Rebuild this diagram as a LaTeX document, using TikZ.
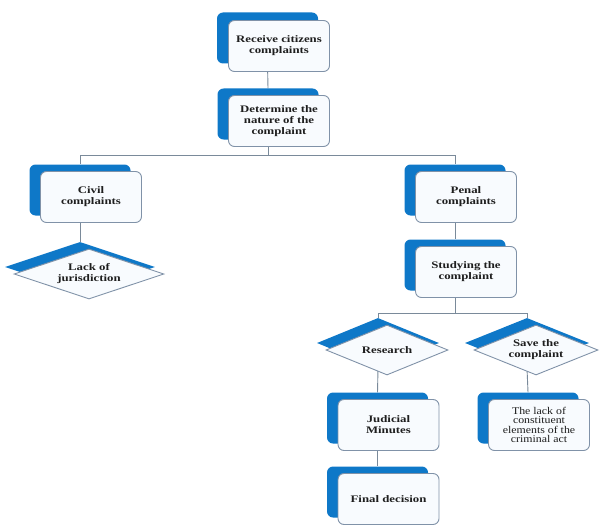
\documentclass[tikz,border=0pt]{standalone}
\usepackage{fontspec}
\newfontfamily\bxfont{Liberation Serif Bold}[FakeStretch=1.28]
\newfontfamily\nxfont{Liberation Serif}[FakeStretch=1.15]
\usetikzlibrary{shapes.geometric,backgrounds}
\definecolor{bluebk}{RGB}{14,120,200}
\definecolor{bordergray}{RGB}{128,146,168}
\definecolor{frontfill}{RGB}{248,251,254}
\definecolor{linegray}{RGB}{122,138,154}
\definecolor{txt}{RGB}{30,30,30}
\tikzset{
  backbox/.style={fill=bluebk, rounded corners=6pt, minimum width=101pt, minimum height=51pt, inner sep=0pt},
  frontbox/.style={draw=bordergray, line width=0.9pt, fill=frontfill, rounded corners=6pt, minimum width=101pt, minimum height=51pt, inner sep=0pt, align=center, text=txt, font=\bxfont\fontsize{10}{11}\selectfont},
  backdia/.style={shape=diamond, fill=bluebk, inner sep=0pt},
  frontdia/.style={shape=diamond, draw=bordergray, line width=0.9pt, fill=frontfill, inner sep=0pt},
  diatext/.style={align=center, text=txt, font=\bxfont\fontsize{10}{11}\selectfont, inner sep=0pt},
  conn/.style={draw=linegray, line width=0.9pt}
}
\begin{document}
\begin{tikzpicture}[x=1pt,y=-1pt]
\useasboundingbox (0,0) rectangle (601,524);
% boxes (blue back + white front)
\node[backbox] (b1) at (267.5,38) {};
\node[frontbox] (f1) at (279,46) {Receive citizens\\complaints};
\node[backbox] (b2) at (268,114) {};
\node[frontbox] (f2) at (279,121) {Determine the\\nature of the\\complaint};
\node[backbox] (civ) at (80,190) {};
\node[frontbox] (fciv) at (91,197) {Civil\\complaints};
\node[backbox] (pen) at (455,190) {};
\node[frontbox] (fpen) at (466,197) {Penal\\complaints};
\node[backbox] (stu) at (455,265) {};
\node[frontbox] (fstu) at (466,272) {Studying the\\complaint};
\node[backbox] (jud) at (377.5,418) {};
\node[frontbox] (fjud) at (388.5,425) {Judicial\\Minutes};
\node[backbox] (lce) at (528,418) {};
\node[frontbox, font=\nxfont\fontsize{10.3}{9.2}\selectfont] (flce) at (539,425) {The lack of\\constituent\\elements of the\\criminal act};
\node[backbox] (fin) at (377.5,492) {};
\node[frontbox] (ffin) at (388.5,499) {Final decision};
% diamonds
\node[backdia, minimum width=150pt, minimum height=50pt] (dlj) at (80,267) {};
\node[frontdia, minimum width=150pt, minimum height=50pt] (fdlj) at (89,274) {};
\node[diatext] (tdlj) at (fdlj) {Lack of\\jurisdiction};
\node[backdia, minimum width=122pt, minimum height=50pt] (dres) at (378,343) {};
\node[frontdia, minimum width=122pt, minimum height=50pt] (fdres) at (387,350) {};
\node[diatext] (tdres) at (fdres) {Research};
\node[backdia, minimum width=124pt, minimum height=50pt] (dsav) at (527,343) {};
\node[frontdia, minimum width=124pt, minimum height=50pt] (fdsav) at (536,350) {};
\node[diatext] (tdsav) at (fdsav) {Save the\\complaint};
% connectors
\coordinate (j1) at (268,155);
\coordinate (j2) at (455,313);
\begin{scope}[on background layer]
\draw[conn] (b1.south) -- (b2.north);
\draw[conn] (b2.south) -- (j1);
\draw[conn] (j1) -| (civ.north);
\draw[conn] (j1) -| (pen.north);
\draw[conn] (civ.south) -- (dlj.north);
\draw[conn] (pen.south) -- (stu.north);
\draw[conn] (stu.south) -- (j2);
\draw[conn] (j2) -| (dres.north);
\draw[conn] (j2) -| (dsav.north);
\draw[conn] (dres.south) -- (jud.north);
\draw[conn] (dsav.south) -- (lce.north);
\draw[conn] (jud.south) -- (fin.north);
\end{scope}
\end{tikzpicture}
\end{document}
